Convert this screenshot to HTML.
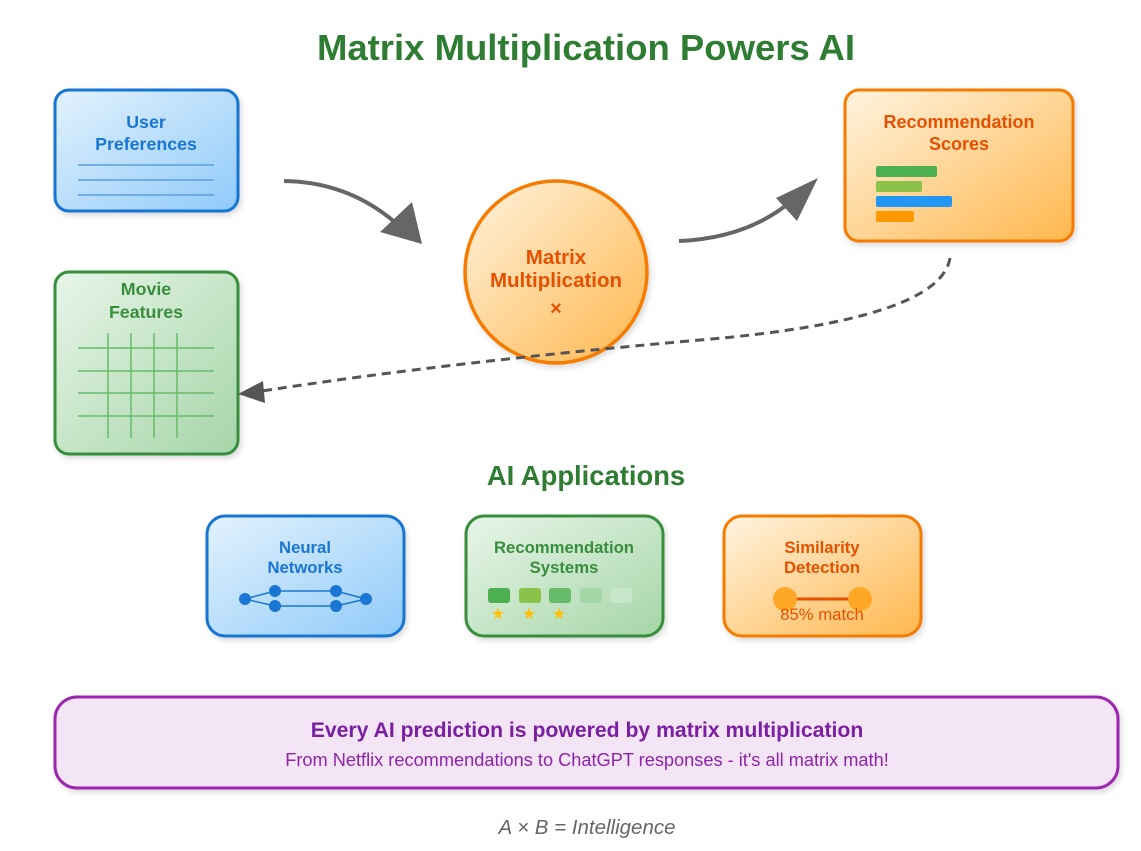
<!DOCTYPE html>
<html><head><meta charset="utf-8"><style>
html,body{margin:0;padding:0;background:#fff;width:1141px;height:851px;overflow:hidden}
text{font-family:"Liberation Sans",Arial,sans-serif}
</style></head><body>
<svg width="1141" height="851" viewBox="0 0 1141 851" xmlns="http://www.w3.org/2000/svg">
<defs>
<linearGradient id="gb" x1="0" y1="0" x2="1" y2="1"><stop offset="0" stop-color="#e3f2fd"/><stop offset="1" stop-color="#90caf9"/></linearGradient>
<linearGradient id="gg" x1="0" y1="0" x2="1" y2="1"><stop offset="0" stop-color="#e8f5e9"/><stop offset="1" stop-color="#a5d6a7"/></linearGradient>
<linearGradient id="go" x1="0" y1="0" x2="1" y2="1"><stop offset="0" stop-color="#fff3e0"/><stop offset="1" stop-color="#ffb74d"/></linearGradient>
<filter id="sh" x="-20%" y="-20%" width="140%" height="140%"><feDropShadow dx="2" dy="3" stdDeviation="3" flood-color="#000" flood-opacity="0.15"/></filter>
</defs>
<text x="586" y="60" text-anchor="middle" font-size="36.5" font-weight="bold" fill="#2e7d32">Matrix Multiplication Powers AI</text>

<rect x="55" y="90" width="183" height="121" rx="14" fill="url(#gb)" stroke="#1976d2" stroke-width="3" filter="url(#sh)"/>
<text x="146" y="128" text-anchor="middle" font-size="17.8" font-weight="bold" fill="#1976d2">User</text>
<text x="146" y="150" text-anchor="middle" font-size="17.8" font-weight="bold" fill="#1976d2">Preferences</text>
<g stroke="#5a9fe0" stroke-width="1.5"><line x1="78" y1="165" x2="214" y2="165"/><line x1="78" y1="180" x2="214" y2="180"/><line x1="78" y1="195" x2="214" y2="195"/></g>

<rect x="55" y="272" width="183" height="182" rx="14" fill="url(#gg)" stroke="#388e3c" stroke-width="3" filter="url(#sh)"/>
<text x="146" y="295" text-anchor="middle" font-size="17.8" font-weight="bold" fill="#388e3c">Movie</text>
<text x="146" y="318" text-anchor="middle" font-size="17.8" font-weight="bold" fill="#388e3c">Features</text>
<g stroke="#66bb6a" stroke-width="1.5"><line x1="78" y1="348" x2="214" y2="348"/><line x1="78" y1="371" x2="214" y2="371"/><line x1="78" y1="393" x2="214" y2="393"/><line x1="78" y1="416" x2="214" y2="416"/>
<line x1="108" y1="333" x2="108" y2="438"/><line x1="131" y1="333" x2="131" y2="438"/><line x1="154" y1="333" x2="154" y2="438"/><line x1="177" y1="333" x2="177" y2="438"/></g>

<circle cx="556" cy="272" r="91" fill="url(#go)" stroke="#f57c00" stroke-width="3.5" filter="url(#sh)"/>
<text x="556" y="264" text-anchor="middle" font-size="20.5" font-weight="bold" fill="#e65100">Matrix</text>
<text x="556" y="287" text-anchor="middle" font-size="20.5" font-weight="bold" fill="#e65100">Multiplication</text>
<text x="556" y="315" text-anchor="middle" font-size="20" font-weight="bold" fill="#e65100">×</text>

<rect x="845" y="90" width="228" height="151" rx="14" fill="url(#go)" stroke="#f57c00" stroke-width="3" filter="url(#sh)"/>
<text x="959" y="128" text-anchor="middle" font-size="18" font-weight="bold" fill="#e65100">Recommendation</text>
<text x="959" y="150" text-anchor="middle" font-size="18" font-weight="bold" fill="#e65100">Scores</text>
<rect x="876" y="166" width="61" height="11" rx="2" fill="#4caf50"/>
<rect x="876" y="181" width="46" height="11" rx="2" fill="#8bc34a"/>
<rect x="876" y="196" width="76" height="11" rx="2" fill="#2196f3"/>
<rect x="876" y="211" width="38" height="11" rx="2" fill="#ff9800"/>

<path d="M284,181 Q350,182 398,225" fill="none" stroke="#666" stroke-width="4"/>
<path d="M380,232 L422,244 L412,202 z" fill="#666"/>
<path d="M679,241 Q750,238 795,198" fill="none" stroke="#666" stroke-width="4"/>
<path d="M776,198 L818,178 L797,221 z" fill="#666"/>
<path d="M950,258 Q940,320 700,340 Q450,362 262,391" fill="none" stroke="#555" stroke-width="3" stroke-dasharray="9,6"/>
<path d="M238,394 L263,381 L265,403 z" fill="#555"/>

<text x="586" y="485" text-anchor="middle" font-size="27.4" font-weight="bold" fill="#2e7d32">AI Applications</text>

<rect x="207" y="516" width="197" height="120" rx="18" fill="url(#gb)" stroke="#1976d2" stroke-width="3" filter="url(#sh)"/>
<text x="305" y="553" text-anchor="middle" font-size="16.7" font-weight="bold" fill="#1976d2">Neural</text>
<text x="305" y="573" text-anchor="middle" font-size="16.7" font-weight="bold" fill="#1976d2">Networks</text>
<g stroke="#1976d2" stroke-width="1.5" fill="none"><path d="M245,599 L275,591 L336,591 L366,599 L336,606 L275,606 z"/></g>
<g fill="#1976d2"><circle cx="245" cy="599" r="6"/><circle cx="275" cy="591" r="6"/><circle cx="275" cy="606" r="6"/><circle cx="336" cy="591" r="6"/><circle cx="336" cy="606" r="6"/><circle cx="366" cy="599" r="6"/></g>

<rect x="466" y="516" width="197" height="120" rx="18" fill="url(#gg)" stroke="#388e3c" stroke-width="3" filter="url(#sh)"/>
<text x="564" y="553" text-anchor="middle" font-size="16.7" font-weight="bold" fill="#388e3c">Recommendation</text>
<text x="564" y="573" text-anchor="middle" font-size="16.7" font-weight="bold" fill="#388e3c">Systems</text>
<rect x="488" y="588" width="22" height="15" rx="3" fill="#4caf50"/>
<rect x="519" y="588" width="22" height="15" rx="3" fill="#8bc34a"/>
<rect x="549" y="588" width="22" height="15" rx="3" fill="#66bb6a"/>
<rect x="580" y="588" width="22" height="15" rx="3" fill="#a5d6a7"/>
<rect x="610" y="588" width="22" height="15" rx="3" fill="#c8e6c9"/>
<g font-size="16" fill="#ffc107" text-anchor="middle"><text x="498" y="619">★</text><text x="529" y="619">★</text><text x="559" y="619">★</text></g>

<rect x="724" y="516" width="197" height="120" rx="18" fill="url(#go)" stroke="#f57c00" stroke-width="3" filter="url(#sh)"/>
<text x="822" y="553" text-anchor="middle" font-size="16.7" font-weight="bold" fill="#e65100">Similarity</text>
<text x="822" y="573" text-anchor="middle" font-size="16.7" font-weight="bold" fill="#e65100">Detection</text>
<line x1="785" y1="599" x2="860" y2="599" stroke="#e65100" stroke-width="3"/>
<circle cx="785" cy="599" r="12" fill="#ffa726"/><circle cx="860" cy="599" r="12" fill="#ffa726"/>
<text x="822" y="620" text-anchor="middle" font-size="16.7" fill="#e65100">85% match</text>

<rect x="55" y="697" width="1063" height="91" rx="22" fill="#f3e5f5" stroke="#9c27b0" stroke-width="3" filter="url(#sh)"/>
<text x="587" y="737" text-anchor="middle" font-size="21.2" font-weight="bold" fill="#7b1fa2">Every AI prediction is powered by matrix multiplication</text>
<text x="587" y="766" text-anchor="middle" font-size="18.2" fill="#8e24aa">From Netflix recommendations to ChatGPT responses - it's all matrix math!</text>

<text x="587" y="834" text-anchor="middle" font-size="20.5" font-style="italic" fill="#666">A × B = Intelligence</text>
</svg>
</body></html>
